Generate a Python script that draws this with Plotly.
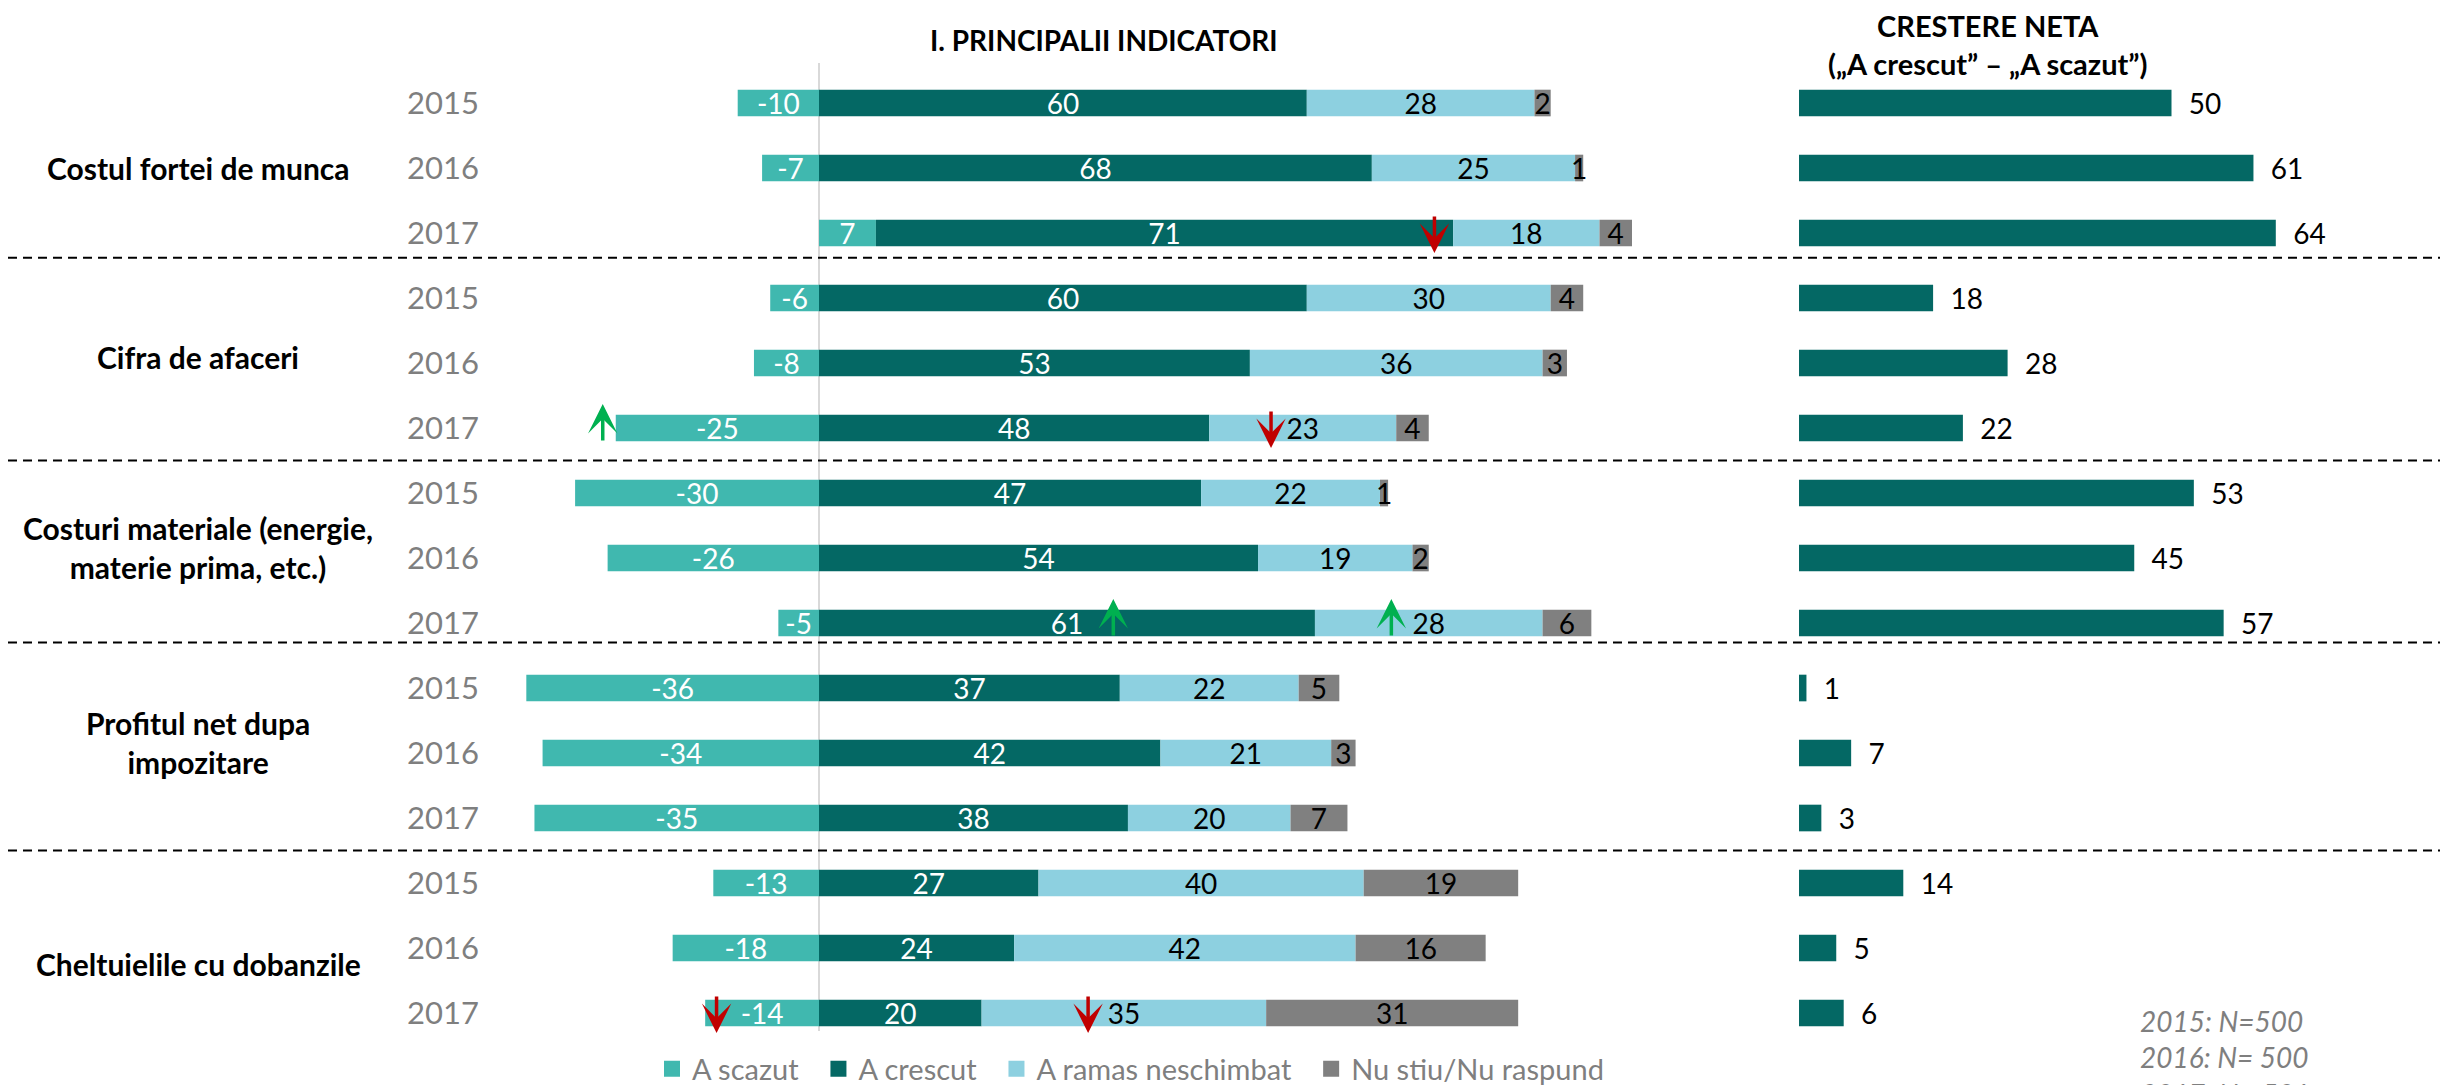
import plotly.graph_objects as go

# --- date -----------------------------------------------------------------
INDICATORI = [
    "Costul fortei de munca",
    "Cifra de afaceri",
    "Costuri materiale (energie,<br>materie prima, etc.)",
    "Profitul net dupa<br>impozitare",
    "Cheltuielile cu dobanzile",
]
ANI = ["2015", "2016", "2017"]

A_SCAZUT = [-10, -7, 7, -6, -8, -25, -30, -26, -5, -36, -34, -35, -13, -18, -14]
A_CRESCUT = [60, 68, 71, 60, 53, 48, 47, 54, 61, 37, 42, 38, 27, 24, 20]
A_RAMAS = [28, 25, 18, 30, 36, 23, 22, 19, 28, 22, 21, 20, 40, 42, 35]
NU_STIU = [2, 1, 4, 4, 3, 4, 1, 2, 6, 5, 3, 7, 19, 16, 31]
CRESTERE_NETA = [50, 61, 64, 18, 28, 22, 53, 45, 57, 1, 7, 3, 14, 5, 6]

# sageti de semnificatie: (indicator, an, valoare pe axa, directie)
SAGETI = [
    (0, "2017", 75.7, "down"),
    (1, "2017", -26.6, "up"),
    (1, "2017", 55.6, "down"),
    (2, "2017", 36.2, "up"),
    (2, "2017", 70.4, "up"),
    (4, "2017", -12.6, "down"),
    (4, "2017", 33.1, "down"),
]

NOTA = "2015: N=500<br>2016: N= 500<br>2017: N= 501"

# --- stil / geometrie (pixeli de pagina) ------------------------------------
W, H = 2451, 1085
OFF = 8                      # marginea implicita a <body>
FW, FH = W - OFF, H - OFF
FONT = "Lato, 'Open Sans', sans-serif"
C_SCAZUT = "#40B8AF"
C_CRESCUT = "#046864"
C_RAMAS = "#8DD0E0"
C_NUSTIU = "#808080"
GRAY = "#7f7f7f"

ZERO_PX, PX_UNIT = 819, 8.13          # panoul principal
MAIN_L, MAIN_R = 494, 1713
NET_L, NET_PX_UNIT = 1799, 7.45       # panoul "crestere neta"
ROW0_PX, ROW_STEP = 103, 65
BAR_W = 0.41


def px(x):
    return (x - OFF) / FW


def py(y):
    return 1 - (y - OFF) / FH


ROWS = [f"{i}|{an}" for i in range(len(INDICATORI)) for an in ANI]
YEAR_TXT = [r.split("|")[1] for r in ROWS]

fig = go.Figure()

NBSP = "\u00a0"
segments = [
    ("A scazut", A_SCAZUT, C_SCAZUT, "white"),
    ("A crescut", A_CRESCUT, C_CRESCUT, "white"),
    ("A ramas neschimbat", A_RAMAS, C_RAMAS, "black"),
    ("Nu stiu/Nu raspund", NU_STIU, C_NUSTIU, "black"),
]
for k, (name, vals, col, tcol) in enumerate(segments):
    fig.add_trace(go.Bar(
        x=vals, y=ROWS, orientation="h", name=name, showlegend=False,
        marker=dict(color=col, line=dict(width=0)),
        width=BAR_W, text=[str(v) for v in vals], textposition="inside",
        insidetextanchor="middle", textangle=0, cliponaxis=False,
        textfont=dict(family=FONT, size=28, color=tcol),
        hoverinfo="skip",
    ))
    # intrare de legenda cu patrat mai mare
    fig.add_trace(go.Scatter(
        x=[None], y=[None], mode="markers",
        name=name + (NBSP * 2 if k < len(segments) - 1 else ""),
        marker=dict(symbol="square", size=20, color=col),
    ))

fig.add_trace(go.Bar(
    x=CRESTERE_NETA, y=ROWS, orientation="h", xaxis="x2", yaxis="y",
    showlegend=False, marker=dict(color=C_CRESCUT, line=dict(width=0)),
    width=BAR_W, text=[f"{NBSP}{NBSP}{v}" for v in CRESTERE_NETA],
    textposition="outside", textangle=0, cliponaxis=False,
    textfont=dict(family=FONT, size=28, color="black"), hoverinfo="skip",
))

fig.update_layout(
    width=FW, height=FH, barmode="relative",
    margin=dict(l=0, r=0, t=0, b=0, autoexpand=False),
    paper_bgcolor="white", plot_bgcolor="white",
    font=dict(family=FONT, size=28, color="black"),
    uniformtext=dict(mode="show", minsize=28),
    xaxis=dict(domain=[px(MAIN_L), px(MAIN_R)],
               range=[(MAIN_L - ZERO_PX) / PX_UNIT, (MAIN_R - ZERO_PX) / PX_UNIT],
               visible=False, fixedrange=True),
    xaxis2=dict(domain=[px(NET_L), 1], anchor="y",
                range=[0, (W - NET_L) / NET_PX_UNIT],
                visible=False, fixedrange=True),
    yaxis=dict(type="category", categoryorder="array", categoryarray=ROWS,
               range=[(FH - (ROW0_PX - OFF)) / ROW_STEP, -(ROW0_PX - OFF) / ROW_STEP],
               tickmode="array", tickvals=ROWS, ticktext=YEAR_TXT,
               tickfont=dict(family=FONT, size=31, color=GRAY),
               ticks="", showgrid=False, zeroline=False, showline=False,
               ticklabelstandoff=14, automargin=False, fixedrange=True),
    legend=dict(orientation="h", x=px(652), xanchor="left",
                y=py(1069), yanchor="middle", itemsizing="trace",
                font=dict(family=FONT, size=29, color=GRAY),
                bgcolor="rgba(0,0,0,0)", tracegroupgap=0),
    showlegend=True,
)

# linia de zero si separatoarele punctate
fig.add_shape(type="line", xref="x", yref="paper", x0=0, x1=0,
              y0=py(1031), y1=py(63),
              line=dict(color="#d9d9d9", width=2), layer="below")
for ysep in [2.38, 5.5, 8.3, 11.5]:
    fig.add_shape(type="line", xref="paper", yref="y", x0=0, x1=px(2440),
                  y0=ysep, y1=ysep,
                  line=dict(color="black", width=2, dash="9px,6px"))

# etichete indicatori
GROUP_SHIFT = [0, 6, 11, 11, -16]
for i, label in enumerate(INDICATORI):
    fig.add_annotation(text=f"<b>{label}</b>", xref="paper", yref="y",
                       x=px(198), y=ROWS[3 * i + 1], yshift=GROUP_SHIFT[i],
                       xanchor="center", align="center", showarrow=False,
                       font=dict(family=FONT, size=30, color="black"))

# titluri
fig.add_annotation(text="<b>I. PRINCIPALII INDICATORI</b>", xref="paper",
                   yref="paper", x=px(1104), y=py(40), showarrow=False,
                   xanchor="center", yanchor="middle",
                   font=dict(family=FONT, size=28, color="black"))
fig.add_annotation(text="<b>CRESTERE NETA<br>(\u201eA crescut\u201d \u2013 \u201eA scazut\u201d)</b>",
                   xref="paper", yref="paper", x=px(1987), y=py(44),
                   showarrow=False, xanchor="center", yanchor="middle",
                   align="center", font=dict(family=FONT, size=29, color="black"))

# nota esantion
fig.add_annotation(text=f"<i>{NOTA}</i>", xref="paper", yref="paper",
                   x=px(2138), y=py(1002), xanchor="left", yanchor="top",
                   align="left", showarrow=False,
                   font=dict(family=FONT, size=28, color=GRAY))

# sageti
for ind, an, xv, d in SAGETI:
    down = d == "down"
    fig.add_annotation(x=xv, y=f"{ind}|{an}", xref="x", yref="y", text="",
                       showarrow=True, ax=0, ay=-38 if down else 38,
                       yshift=-20 if down else 24,
                       arrowhead=3, arrowsize=1.4, arrowwidth=3.5,
                       arrowcolor="#C00000" if down else "#00B050")

fig.write_html("out.html")
